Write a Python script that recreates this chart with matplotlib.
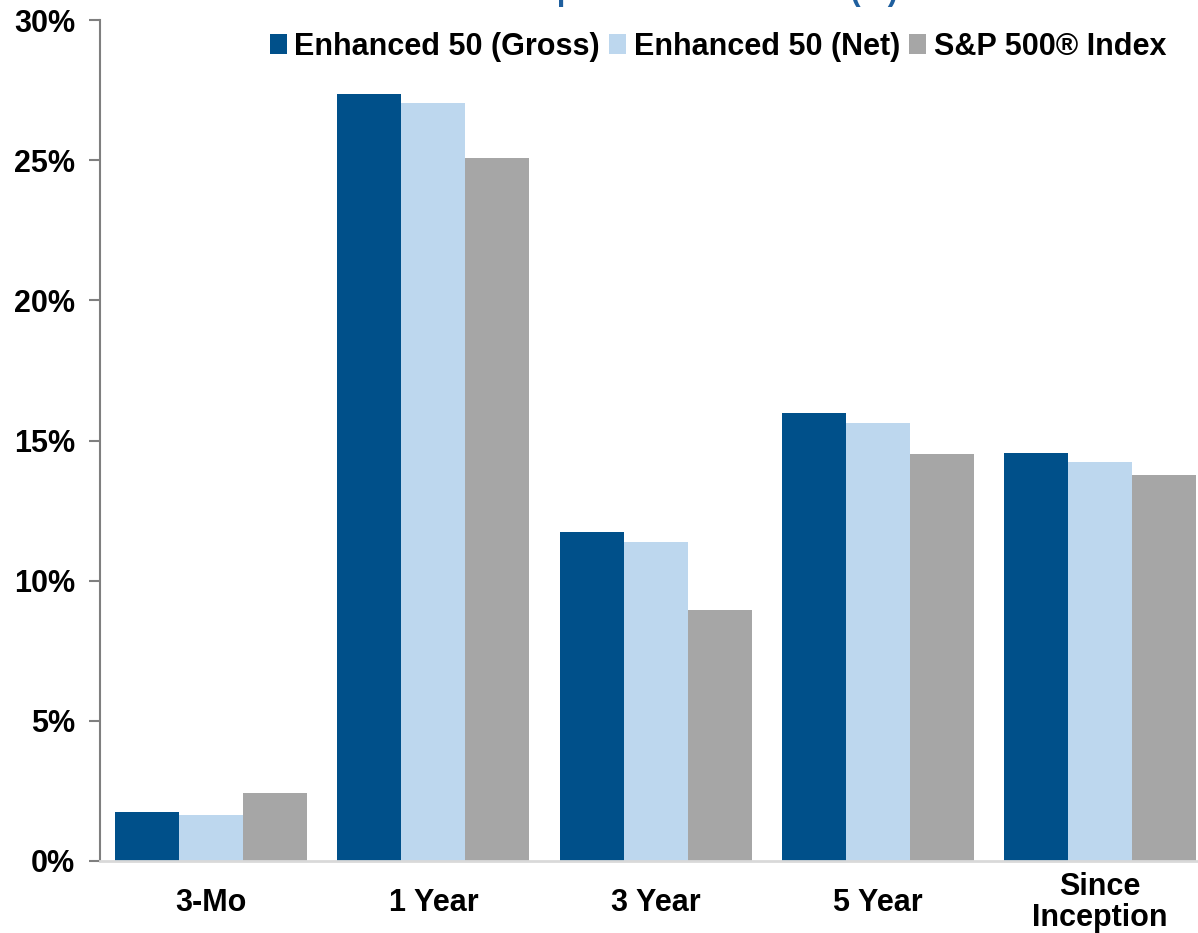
import numpy as np
from matplotlib import pyplot as plt

plt.rcParams['font.family'] = ['Liberation Sans', 'DejaVu Sans']
plt.rcParams['font.weight'] = 'bold'

categories = ["3-Mo", "1 Year", "3 Year", "5 Year", "Since\nInception"]
series_names = ["Enhanced 50 (Gross)", "Enhanced 50 (Net)", "S&P 500\u00ae Index"]
gross = [1.75, 27.36, 11.74, 15.98, 14.56]
net = [1.64, 27.04, 11.38, 15.63, 14.23]
sp500 = [2.43, 25.08, 8.95, 14.52, 13.77]
yticks = [0, 5, 10, 15, 20, 25, 30]

colors = ["#00508A", "#BDD7EE", "#A6A6A6"]

W, H = 1198, 933
fig = plt.figure(figsize=(W / 100, H / 100), dpi=100)
ax = fig.add_axes([100 / W, 72 / H, 1098 / W, 841 / H])

x = np.arange(len(categories))
bw = 0.288
for i, vals in enumerate([gross, net, sp500]):
    ax.bar(x + (i - 1) * bw, vals, bw, color=colors[i], label=series_names[i])

ax.set_xlim(-0.5, 4.44)
ax.set_ylim(0, 30)
ax.set_yticks(yticks)
ax.set_yticklabels([str(v) + "%" for v in yticks], fontsize=22, fontweight='bold')
ax.set_xticks(x)
ax.set_xticklabels(categories, fontsize=22, fontweight='bold', va='center',
                   linespacing=1.05)
ax.tick_params(axis='x', length=0, pad=30)
ax.tick_params(axis='y', length=8, width=1.5, color='#7F7F7F', pad=10)

for s in ['top', 'right']:
    ax.spines[s].set_visible(False)
ax.spines['left'].set_color('#7F7F7F')
ax.spines['left'].set_linewidth(1.5)
ax.spines['bottom'].set_color('#D9D9D9')
ax.spines['bottom'].set_linewidth(2)

fig.legend(loc='center right', bbox_to_anchor=(1166 / W, 1 - 47 / H), ncol=3,
           frameon=False, fontsize=22, handlelength=0.55, handleheight=0.65,
           handletextpad=0.25, columnspacing=0.3, borderpad=0, borderaxespad=0)

# title sits mostly above the canvas in the reference
fig.text(898 / W, 1.0, "Composite Performance (%)", ha='right', va='baseline',
         fontsize=22, fontweight='bold', color='#1F5F9E')

fig.savefig("out.png", dpi=100)
